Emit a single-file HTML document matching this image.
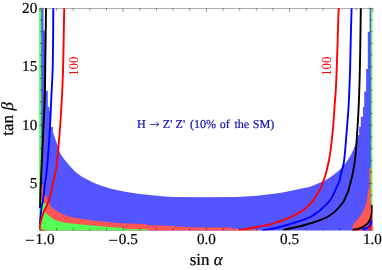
<!DOCTYPE html>
<html><head><meta charset="utf-8"><title>plot</title>
<style>html,body{margin:0;padding:0;background:#fff;}svg{display:block;font-family:"Liberation Serif",serif;text-rendering:geometricPrecision;}</style>
</head><body>
<div style="will-change:transform;width:382px;height:270px">
<svg width="382" height="270" viewBox="0 0 382 270">
<defs><clipPath id="cp"><rect x="39" y="8.1" width="333.5" height="222.3"/></clipPath></defs>
<rect width="382" height="270" fill="#fff"/>
<g>
<polygon points="40.5,8.3 43.5,8.3 43.5,30.3 45.5,30.3 45.5,90.7 47.8,90.7 47.8,106.8 49.4,106.8 49.4,110.6 51.0,110.6 51.0,127.0 52.9,127.0 52.9,132.0 54.2,135.8 55.7,140.2 57.3,144.6 59.2,150.9 61.1,154.7 63.6,158.4 66.7,162.2 69.9,166.0 75.0,171.5 81.9,176.7 93.0,182.4 101.2,185.7 112.0,189.0 126.4,192.1 138.0,193.7 151.6,195.2 165.0,196.4 172.0,197.0 206.0,197.2 236.0,197.1 245.0,196.6 255.0,196.1 265.7,194.7 281.4,192.7 297.1,189.5 310.0,186.8 315.7,184.4 325.0,180.6 331.4,176.5 336.5,172.4 339.2,170.3 343.0,166.2 347.1,161.0 350.4,155.8 353.5,149.4 355.4,144.4 357.0,139.8 358.0,138.0 358.0,135.0 359.2,135.0 359.2,126.8 360.8,126.8 360.8,116.7 363.0,116.7 363.0,107.0 364.2,107.0 364.2,91.5 366.1,91.5 366.1,68.9 367.8,68.9 367.8,31.7 369.6,31.7 369.6,8.3 371.4,8.3 371.4,230.4 40.5,230.4" fill="#5555ff"/>
<polygon points="40.5,184.0 42.6,184.0 44.0,196.0 44.8,194.9 46.0,194.9 47.5,199.5 49.7,204.3 52.9,208.3 59.2,212.6 65.5,215.5 71.8,217.2 84.0,219.2 95.0,220.7 108.0,222.1 120.0,223.2 135.0,223.8 146.4,224.1 146.4,225.1 168.0,225.7 185.0,226.9 200.0,227.4 232.0,227.5 232.0,228.8 240.0,228.8 240.0,229.3 258.0,229.3 258.0,230.4 40.5,230.4" fill="#ff5555"/>
<polygon points="369.3,168.0 371.3,168.0 371.3,205.0 372.4,205.0 372.4,230.4 352.6,230.4 352.3,226.8 354.4,222.8 358.4,218.5 362.0,213.4 364.1,208.6 365.9,204.6 366.7,200.2 367.7,196.0 367.7,189.6 369.3,189.6" fill="#ff5555"/>
<polygon points="352.6,229.7 358.5,228.9 366.2,224.7 370.0,220.0 371.9,212.6 372.4,205.0 372.4,225.2 368.7,230.4 352.6,230.4" fill="#ff5555"/>
<polygon points="362.2,230.4 368.7,226.7 371.9,220.6 372.4,219.0 372.4,226.0 369.0,230.4" fill="#5555ff"/>
<polygon points="39.2,8.3 41.3,8.3 41.3,200.0 44.0,203.0 47.0,203.8 44.5,211.5 45.3,212.3 47.9,214.8 52.9,219.0 59.2,221.5 65.5,222.8 71.8,223.5 84.0,224.7 95.0,225.8 108.0,226.9 124.0,228.0 124.0,229.0 148.0,229.2 148.0,230.4 39.2,230.4" fill="#55ff55"/>
<polygon points="370.9,8.3 372.4,8.3 372.4,205.0 370.9,205.0" fill="#55ff55"/>
<rect x="39.5" y="229.1" width="5" height="1.3" fill="#ff5555"/>
<path d="M39.5,8.55H372.6" stroke="#a2a2a2" stroke-width="0.9" fill="none"/>
<path d="M39.90,8.3v3.8M39.90,230.4v-3.8M56.55,8.3v2.4M56.55,230.4v-2.4M73.20,8.3v2.4M73.20,230.4v-2.4M89.85,8.3v2.4M89.85,230.4v-2.4M106.50,8.3v2.4M106.50,230.4v-2.4M123.15,8.3v3.8M123.15,230.4v-3.8M139.80,8.3v2.4M139.80,230.4v-2.4M156.45,8.3v2.4M156.45,230.4v-2.4M173.10,8.3v2.4M173.10,230.4v-2.4M189.75,8.3v2.4M189.75,230.4v-2.4M206.40,8.3v3.8M206.40,230.4v-3.8M223.05,8.3v2.4M223.05,230.4v-2.4M239.70,8.3v2.4M239.70,230.4v-2.4M256.35,8.3v2.4M256.35,230.4v-2.4M273.00,8.3v2.4M273.00,230.4v-2.4M289.65,8.3v3.8M289.65,230.4v-3.8M306.30,8.3v2.4M306.30,230.4v-2.4M322.95,8.3v2.4M322.95,230.4v-2.4M339.60,8.3v2.4M339.60,230.4v-2.4M356.25,8.3v2.4M356.25,230.4v-2.4M372.90,8.3v3.8M372.90,230.4v-3.8M39.6,230.40h2.4M372.5,230.40h-2.4M39.6,218.71h2.4M372.5,218.71h-2.4M39.6,207.02h2.4M372.5,207.02h-2.4M39.6,195.33h2.4M372.5,195.33h-2.4M39.6,183.64h3.8M372.5,183.64h-3.8M39.6,171.95h2.4M372.5,171.95h-2.4M39.6,160.26h2.4M372.5,160.26h-2.4M39.6,148.57h2.4M372.5,148.57h-2.4M39.6,136.88h2.4M372.5,136.88h-2.4M39.6,125.19h3.8M372.5,125.19h-3.8M39.6,113.51h2.4M372.5,113.51h-2.4M39.6,101.82h2.4M372.5,101.82h-2.4M39.6,90.13h2.4M372.5,90.13h-2.4M39.6,78.44h2.4M372.5,78.44h-2.4M39.6,66.75h3.8M372.5,66.75h-3.8M39.6,55.06h2.4M372.5,55.06h-2.4M39.6,43.37h2.4M372.5,43.37h-2.4M39.6,31.68h2.4M372.5,31.68h-2.4M39.6,19.99h2.4M372.5,19.99h-2.4M39.6,8.30h3.8M372.5,8.30h-3.8" stroke="#000" stroke-width="0.42" fill="none"/>
<path d="M46.0,8.3C45.9,17.6 45.5,49.0 45.3,64.0C45.1,79.0 45.1,86.7 44.7,98.0C44.4,109.3 43.7,120.7 43.2,132.0C42.7,143.3 42.1,156.3 41.6,166.0C41.1,175.7 40.8,183.0 40.5,190.0C40.2,197.0 40.2,205.0 40.1,208.0" stroke="#000" stroke-width="1.9" fill="none" stroke-linejoin="round" clip-path="url(#cp)"/>
<path d="M53.3,8.3C53.2,17.6 53.1,49.0 52.8,64.0C52.5,79.0 51.8,86.7 51.3,98.0C50.8,109.3 50.4,120.7 49.7,132.0C49.0,143.3 48.0,157.2 47.2,166.0C46.4,174.8 45.5,179.3 44.8,185.0C44.1,190.7 43.6,196.6 43.1,200.0C42.6,203.4 42.3,202.4 41.8,205.6C41.3,208.8 40.6,216.3 40.3,219.4C40.0,222.5 39.9,223.2 39.8,224.0" stroke="#0000ff" stroke-width="1.9" fill="none" stroke-linejoin="round" clip-path="url(#cp)"/>
<path d="M64.2,8.3C64.0,17.6 63.6,49.0 63.2,64.0C62.8,79.0 62.5,86.7 61.9,98.0C61.3,109.3 60.6,120.7 59.7,132.0C58.8,143.3 57.7,157.5 56.6,166.0C55.5,174.5 54.0,177.7 52.9,183.0C51.8,188.3 50.8,194.2 49.7,198.0C48.7,201.8 47.8,202.9 46.6,205.6C45.5,208.3 43.9,211.2 42.8,214.4C41.7,217.7 40.5,222.6 40.0,225.1C39.5,227.6 39.9,228.8 39.9,229.6" stroke="#ff0000" stroke-width="1.9" fill="none" stroke-linejoin="round" clip-path="url(#cp)"/>
<path d="M239.5,229.9C241.2,229.6 246.6,228.8 250.0,228.2C253.4,227.6 256.7,227.0 260.0,226.4C263.3,225.8 267.3,225.2 270.0,224.5C272.7,223.8 274.2,223.1 276.3,222.4C278.4,221.7 280.5,221.1 282.6,220.3C284.7,219.6 286.8,218.8 288.9,217.9C291.0,217.0 293.3,215.9 295.2,214.9C297.1,213.9 298.7,213.1 300.2,212.1C301.7,211.1 303.0,210.3 304.4,209.2C305.8,208.1 307.2,206.8 308.6,205.4C310.0,204.0 311.5,202.4 312.8,200.8C314.1,199.2 315.1,197.5 316.2,195.8C317.3,194.1 318.4,192.7 319.5,190.5C320.6,188.3 321.6,185.6 322.7,182.8C323.8,180.1 325.0,176.5 325.8,174.0C326.6,171.5 326.8,170.1 327.3,167.8C327.8,165.5 328.4,163.0 329.0,160.0C329.6,157.0 330.1,154.0 330.6,150.0C331.1,146.0 331.8,140.2 332.2,136.0C332.6,131.8 332.9,129.9 333.3,124.9C333.7,119.9 334.2,111.8 334.6,106.0C335.0,100.2 335.5,95.7 335.8,90.0C336.1,84.3 336.3,80.7 336.6,72.0C336.9,63.3 337.4,48.6 337.7,38.0C338.0,27.4 338.5,13.2 338.6,8.3" stroke="#ff0000" stroke-width="1.9" fill="none" stroke-linejoin="round" clip-path="url(#cp)"/>
<path d="M262.5,230.3C263.8,230.1 267.4,229.6 270.0,229.1C272.6,228.6 275.1,228.2 277.8,227.5C280.5,226.8 283.6,226.0 286.4,225.2C289.2,224.4 292.0,223.4 294.8,222.5C297.6,221.6 300.6,220.8 303.2,219.9C305.8,219.0 308.3,217.9 310.2,217.0C312.1,216.1 313.0,215.3 314.4,214.4C315.8,213.5 317.2,212.6 318.6,211.5C320.0,210.4 321.4,209.0 322.8,207.7C324.2,206.4 325.8,205.1 327.0,203.8C328.2,202.6 329.1,201.4 330.0,200.2C330.9,199.0 331.3,198.4 332.1,196.8C332.9,195.2 334.1,192.9 335.0,190.9C335.9,188.9 336.8,186.8 337.6,185.0C338.4,183.2 339.1,181.8 339.7,180.0C340.2,178.2 340.4,176.0 340.9,174.0C341.4,172.0 342.1,170.1 342.6,167.8C343.2,165.5 343.6,164.6 344.2,160.0C344.8,155.4 345.3,149.0 346.0,140.0C346.7,131.0 347.9,117.3 348.6,106.0C349.3,94.7 349.6,83.3 350.0,72.0C350.4,60.7 350.5,48.6 350.8,38.0C351.0,27.4 351.5,13.2 351.6,8.3" stroke="#0000ff" stroke-width="1.9" fill="none" stroke-linejoin="round" clip-path="url(#cp)"/>
<path d="M283.5,229.8C285.2,229.5 290.5,228.3 293.5,227.7C296.5,227.1 298.8,226.7 301.4,226.0C304.0,225.3 306.6,224.5 309.2,223.7C311.8,222.9 314.8,221.9 317.1,221.1C319.4,220.3 321.3,219.7 323.2,218.9C325.1,218.1 326.8,217.2 328.5,216.2C330.2,215.1 332.0,214.1 333.7,212.6C335.4,211.1 337.2,209.2 338.9,207.3C340.5,205.4 342.5,203.2 343.6,201.4C344.7,199.7 344.9,198.6 345.7,196.8C346.5,195.1 347.6,192.9 348.3,190.9C349.0,188.9 349.4,186.8 349.9,185.0C350.4,183.2 350.8,181.7 351.2,180.0C351.6,178.3 352.0,177.0 352.4,175.0C352.8,173.0 353.3,170.3 353.7,167.8C354.1,165.3 354.5,164.6 355.0,160.0C355.5,155.4 356.1,149.0 356.7,140.0C357.3,131.0 358.2,117.3 358.7,106.0C359.2,94.7 359.5,83.3 359.8,72.0C360.1,60.7 360.2,48.6 360.4,38.0C360.6,27.4 360.7,13.2 360.8,8.3" stroke="#000" stroke-width="1.9" fill="none" stroke-linejoin="round" clip-path="url(#cp)"/>
<path d="M352.6,229.7C353.6,229.6 356.2,229.7 358.5,228.9C360.8,228.1 364.3,226.2 366.2,224.7C368.1,223.2 369.1,222.0 370.0,220.0C370.9,218.0 371.5,215.1 371.9,212.6C372.3,210.1 372.1,206.1 372.2,204.8" stroke="#000" stroke-width="1.9" fill="none" stroke-linejoin="round" clip-path="url(#cp)"/>
<path d="M362.2,229.5C363.3,229.0 367.1,228.2 368.7,226.7C370.3,225.2 371.4,221.6 371.9,220.6" stroke="#0000ff" stroke-width="1.9" fill="none" stroke-linejoin="round" clip-path="url(#cp)"/>
<path d="M368.7,229.6C369.2,228.9 371.4,225.9 371.9,225.2" stroke="#ff0000" stroke-width="1.9" fill="none" stroke-linejoin="round" clip-path="url(#cp)"/>
<text x="206.4" y="244.2" font-size="15.2" text-anchor="middle" fill="#000" stroke="#000" stroke-width="0.2" >0.0</text>
<text x="289.6" y="244.2" font-size="15.2" text-anchor="middle" fill="#000" stroke="#000" stroke-width="0.2" >0.5</text>
<text x="372.4" y="244.2" font-size="15.2" text-anchor="middle" fill="#000" stroke="#000" stroke-width="0.2" >1.0</text>
<path d="M25.8,240.3h8.3" stroke="#000" stroke-width="0.95"/>
<text x="54.5" y="244.2" font-size="15.2" text-anchor="end" fill="#000" stroke="#000" stroke-width="0.2" >1.0</text>
<path d="M109.1,240.3h8.3" stroke="#000" stroke-width="0.95"/>
<text x="137.8" y="244.2" font-size="15.2" text-anchor="end" fill="#000" stroke="#000" stroke-width="0.2" >0.5</text>
<text x="37.3" y="187.9" font-size="15.2" text-anchor="end" fill="#000" stroke="#000" stroke-width="0.2" >5</text>
<text x="37.3" y="129.5" font-size="15.2" text-anchor="end" fill="#000" stroke="#000" stroke-width="0.2" >10</text>
<text x="37.3" y="71.0" font-size="15.2" text-anchor="end" fill="#000" stroke="#000" stroke-width="0.2" >15</text>
<text x="37.3" y="12.6" font-size="15.2" text-anchor="end" fill="#000" stroke="#000" stroke-width="0.2" >20</text>
<text x="206.2" y="265.4" font-size="17" text-anchor="middle" fill="#000" stroke="#000" stroke-width="0.2" >sin <tspan font-style="italic">α</tspan></text>
<text transform="translate(12.7,118.9) rotate(-90)" font-size="17" text-anchor="middle" stroke="#000" stroke-width="0.2">tan <tspan font-style="italic">β</tspan></text>
<text y="127.8" font-size="12.1" stroke="#0c0cb4" stroke-width="0.18" fill="#0c0cb4"><tspan x="136.9">H</tspan><tspan x="162.8">Z'</tspan><tspan x="175.6">Z'</tspan><tspan x="189.9">(10%</tspan><tspan x="219.75">of</tspan><tspan x="234.4">the</tspan><tspan x="252.7">SM)</tspan></text>
<path d="M149.8,124.4H158.8M156.3,122.3L159,124.4L156.3,126.5" stroke="#0c0cb4" stroke-width="0.8" fill="none"/>
<text transform="translate(78.4,66.2) rotate(-90) scale(1,1.03)" font-size="13" text-anchor="middle" fill="#ff0000">100</text>
<text transform="translate(331.0,66.2) rotate(-90) scale(1,1.07)" font-size="13" text-anchor="middle" fill="#ff0000">100</text>
</g>
</svg>
</div>
</body></html>
